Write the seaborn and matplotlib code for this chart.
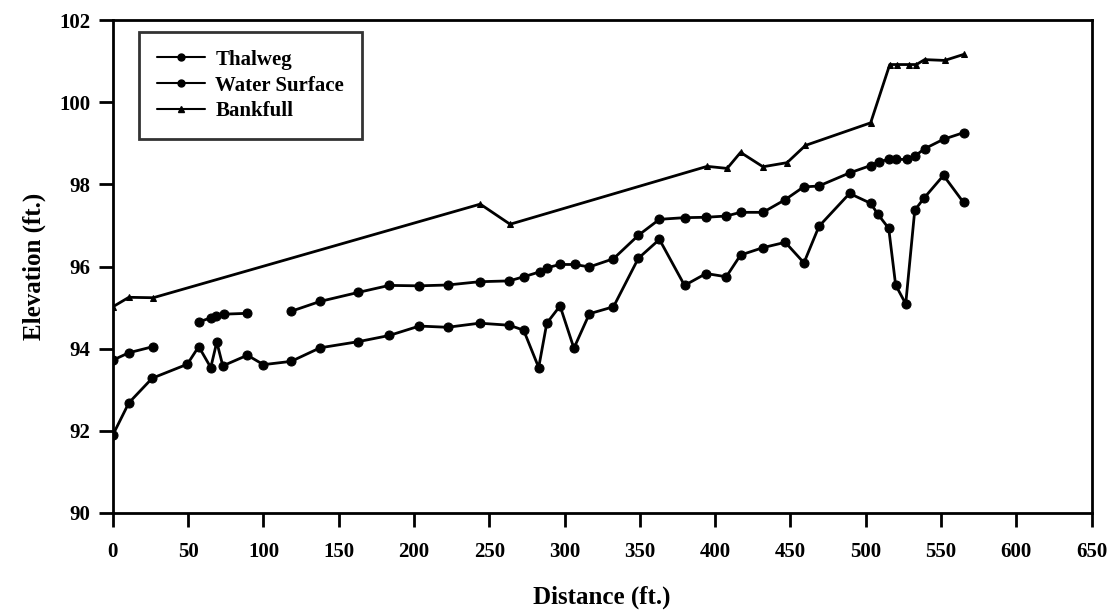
import numpy as np
import pandas as pd
import matplotlib
matplotlib.use("Agg")
import matplotlib.pyplot as plt
import seaborn as sns
from matplotlib.lines import Line2D

# ---- data ----
thal_x = [0, 10.6, 26.1, 49.4, 57, 65, 69, 73, 89.3, 100, 118.4, 137.6, 163, 183.5,
          203.5, 222.3, 243.5, 263.3, 272.8, 282.8, 288.2, 297, 306.2, 316.5, 332.5,
          349, 363, 379.7, 394, 407.4, 416.9, 431.8, 446.6, 459, 469, 489.3, 503.3,
          508.2, 515.3, 519.9, 526.6, 532.6, 538.6, 551.7, 565]
thal_y = [91.9, 92.68, 93.28, 93.62, 94.05, 93.54, 94.16, 93.58, 93.84, 93.61, 93.69,
          94.02, 94.17, 94.32, 94.55, 94.52, 94.62, 94.57, 94.45, 93.54, 94.62, 95.04,
          94.01, 94.85, 95.02, 96.2, 96.66, 95.54, 95.83, 95.75, 96.28, 96.46, 96.59,
          96.09, 96.98, 97.78, 97.54, 97.27, 96.93, 95.55, 95.09, 97.37, 97.66, 98.22,
          97.56]

# None marks a break in the water-surface line
ws_x = [0, 10.6, 26.8, None,
        57, 65, 68.5, 74, 89.3, None,
        118.4, 137.6, 163, 183.5, 203.5, 222.3, 243.5, 263.3, 272.8, 283.5, 288.2,
        297, 306.6, 316.5, 332.5, 349, 363, 379.7, 394, 407.4, 416.9, 431.8, 446.6,
        458.8, 468.8, 489.3, 503.3, 508.7, 515.3, 520.4, 527.7, 533, 539.2, 551.7, 565]
ws_y = [93.72, 93.9, 94.05, None,
        94.65, 94.75, 94.79, 94.84, 94.86, None,
        94.91, 95.15, 95.37, 95.54, 95.53, 95.55, 95.63, 95.65, 95.75, 95.87, 95.97,
        96.05, 96.05, 95.99, 96.19, 96.76, 97.15, 97.19, 97.2, 97.23, 97.32, 97.32,
        97.63, 97.94, 97.96, 98.28, 98.46, 98.55, 98.61, 98.61, 98.61, 98.70, 98.87,
        99.1, 99.26]

bank_x = [0, 10.6, 26.8, 244, 263.8, 394.7, 408, 416.9, 431.8, 447.8, 460, 503.3,
          516, 521, 528.6, 533.7, 539.2, 552.5, 565.4]
bank_y = [95.02, 95.25, 95.24, 97.52, 97.03, 98.44, 98.39, 98.78, 98.43, 98.53,
          98.95, 99.5, 100.92, 100.92, 100.92, 100.92, 101.04, 101.02, 101.17]

series_names = ["Thalweg", "Water Surface", "Bankfull"]
x_ticks = list(range(0, 651, 50))
y_ticks = list(range(90, 103, 2))

# ---- build segments ----
def segments(xs, ys, name):
    rows, seg = [], 0
    for x, y in zip(xs, ys):
        if x is None:
            seg += 1
            continue
        rows.append({"Distance": x, "Elevation": y, "series": name, "seg": f"{name}-{seg}"})
    return rows

df = pd.DataFrame(
    segments(thal_x, thal_y, series_names[0])
    + segments(ws_x, ws_y, series_names[1])
    + segments(bank_x, bank_y, series_names[2])
)

sns.set_theme(style="ticks")
plt.rcParams["font.family"] = ["Liberation Serif", "DejaVu Serif"]
plt.rcParams["font.weight"] = "bold"
plt.rcParams["text.color"] = "black"
plt.rcParams["axes.labelcolor"] = "black"
plt.rcParams["xtick.color"] = "black"
plt.rcParams["ytick.color"] = "black"

fig = plt.figure(figsize=(11.07, 6.12), dpi=100)
ax = fig.add_axes([0.102, 0.162, 0.884, 0.805])

markers = {"Thalweg": ("o", 6.5), "Water Surface": ("o", 6.5), "Bankfull": ("^", 4.5)}
for seg, sub in df.groupby("seg", sort=False):
    name = sub["series"].iloc[0]
    m, ms = markers[name]
    sns.lineplot(data=sub, x="Distance", y="Elevation", ax=ax, color="black",
                 linewidth=2, marker=m, markersize=ms, markeredgecolor="black",
                 estimator=None, sort=False, legend=False)

ax.set_xlim(0, 650)
ax.set_ylim(90, 102)
ax.set_xticks(x_ticks)
ax.set_yticks(y_ticks)
ax.set_xticklabels([str(t) for t in x_ticks])
ax.set_yticklabels([str(t) for t in y_ticks])
ax.tick_params(axis="both", direction="out", length=10, width=2, labelsize=15,
               color="black", labelcolor="black")
ax.tick_params(axis="x", pad=11)
ax.tick_params(axis="y", pad=6)
for lab in ax.get_xticklabels() + ax.get_yticklabels():
    lab.set_fontweight("bold")
for sp in ax.spines.values():
    sp.set_visible(True)
    sp.set_linewidth(2)
    sp.set_color("black")

ax.set_xlabel("Distance (ft.)", fontsize=18, fontweight="bold", labelpad=17)
ax.set_ylabel("Elevation (ft.)", fontsize=18, fontweight="bold", labelpad=10)

handles = [
    Line2D([], [], color="black", lw=1.5, marker="o", markersize=5),
    Line2D([], [], color="black", lw=1.5, marker="o", markersize=5),
    Line2D([], [], color="black", lw=1.5, marker="^", markersize=4),
]
leg = ax.legend(handles, series_names, loc="upper left",
                bbox_to_anchor=(0.027, 0.976), borderaxespad=0, frameon=True,
                fancybox=False, edgecolor="black", handlelength=2.3,
                borderpad=0.85, labelspacing=0.28, handletextpad=0.5,
                prop={"weight": "bold", "size": 15})
leg.get_frame().set_linewidth(2)

fig.savefig("out.png", dpi=100, facecolor="white")
